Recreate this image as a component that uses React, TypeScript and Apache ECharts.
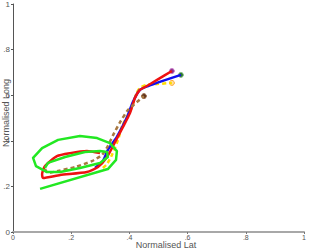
import React, { useEffect, useRef } from "react";
import * as echarts from "echarts";

const tickValues = [0, 0.2, 0.4, 0.6, 0.8, 1];
const tickLabels = ["0", ".2", ".4", ".6", ".8", "1"];

const greenLat = [0.093, 0.326, 0.354, 0.357, 0.333, 0.289, 0.23, 0.155, 0.1, 0.069, 0.079, 0.117, 0.162, 0.23, 0.299, 0.326, 0.323, 0.299, 0.247, 0.179, 0.12, 0.11];
const greenLong = [0.189, 0.276, 0.316, 0.355, 0.39, 0.412, 0.421, 0.404, 0.368, 0.325, 0.289, 0.263, 0.263, 0.281, 0.303, 0.329, 0.351, 0.355, 0.351, 0.329, 0.303, 0.281];

const redLat = [0.299, 0.254, 0.196, 0.151, 0.11, 0.1, 0.103, 0.162, 0.254, 0.292, 0.323, 0.351, 0.378, 0.402, 0.419, 0.436, 0.454, 0.495, 0.546];
const redLong = [0.346, 0.355, 0.346, 0.333, 0.289, 0.254, 0.237, 0.25, 0.263, 0.285, 0.329, 0.395, 0.461, 0.522, 0.588, 0.623, 0.636, 0.667, 0.706];

const blueLat = [0.282, 0.309, 0.326, 0.357, 0.392, 0.412, 0.436, 0.464, 0.512, 0.577];
const blueLong = [0.281, 0.311, 0.36, 0.417, 0.504, 0.57, 0.623, 0.64, 0.662, 0.689];

const yellowLat = [0.309, 0.323, 0.34, 0.361, 0.375, 0.409, 0.423, 0.436, 0.46, 0.495, 0.546];
const yellowLong = [0.281, 0.298, 0.338, 0.404, 0.465, 0.548, 0.605, 0.632, 0.645, 0.649, 0.654];

const brownLat = [0.11, 0.12, 0.155, 0.213, 0.271, 0.306, 0.326, 0.344, 0.368, 0.395, 0.426, 0.45];
const brownLong = [0.276, 0.259, 0.268, 0.285, 0.311, 0.338, 0.377, 0.425, 0.482, 0.535, 0.57, 0.596];

const pairs = (xs: number[], ys: number[]) => xs.map((x, i) => [x, ys[i]]);
const last = (xs: number[], ys: number[]) => [[xs[xs.length - 1], ys[ys.length - 1]]];

const FONT = "'Liberation Sans', Arial, sans-serif";

export default function App() {
  const ref = useRef<HTMLDivElement>(null);
  useEffect(() => {
    if (!ref.current) return;
    const chart = echarts.init(ref.current, undefined, { renderer: "svg" });
    const fmt = (v: number) => {
      const i = tickValues.findIndex((t) => Math.abs(t - v) < 1e-6);
      return i >= 0 ? tickLabels[i] : "";
    };
    const lineSeries = (data: number[][], color: string, width: number, dashed: boolean, smooth: number) => ({
      type: "line",
      data,
      showSymbol: false,
      symbol: "none",
      smooth,
      lineStyle: { color, width, type: dashed ? [4, 3] : "solid", cap: "butt", join: "round" },
      silent: true,
    });
    const dot = (data: number[][], fill: string, border: string) => ({
      type: "scatter",
      data,
      symbolSize: 5,
      itemStyle: { color: fill, borderColor: border, borderWidth: 1, opacity: 1 },
      silent: true,
    });
    chart.setOption({
      animation: false,
      backgroundColor: "#ffffff",
      grid: { left: 13, right: 11, top: 4, bottom: 18, containLabel: false, outerBoundsMode: "none" },
      xAxis: {
        type: "value",
        min: 0,
        max: 1,
        interval: 0.2,
        name: "Normalised Lat",
        nameLocation: "middle",
        nameGap: 8,
        nameMoveOverlap: false,
        nameTextStyle: { fontSize: 9, color: "#555", fontFamily: FONT, padding: [0, 0, 0, 15] },
        splitLine: { show: false },
        axisLine: { show: true, onZero: false, lineStyle: { color: "#a8a8a8", width: 2 } },
        axisTick: { show: true, length: 2, lineStyle: { color: "#777" } },
        axisLabel: { formatter: fmt, fontSize: 7, color: "#555", fontFamily: FONT, margin: 2 },
      },
      yAxis: {
        type: "value",
        min: 0,
        max: 1,
        interval: 0.2,
        name: "Normalised Long",
        nameLocation: "middle",
        nameGap: 3,
        nameMoveOverlap: false,
        nameTextStyle: { fontSize: 9, color: "#555", fontFamily: FONT, padding: [0, 0, 0, 10] },
        splitLine: { show: false },
        axisLine: { show: true, onZero: false, lineStyle: { color: "#555", width: 1 } },
        axisTick: { show: true, length: 2, lineStyle: { color: "#555" } },
        axisLabel: { formatter: fmt, fontSize: 8, color: "#555", fontFamily: FONT, margin: 3 },
      },
      series: [
        lineSeries(pairs(yellowLat, yellowLong), "#ffdd00", 2.5, true, 0.2),
        lineSeries(pairs(blueLat, blueLong), "#1010ee", 2.5, false, 0.2),
        lineSeries(pairs(redLat, redLong), "#ee1111", 2.5, false, 0.2),
        lineSeries(pairs(brownLat, brownLong), "#a87840", 2.5, true, 0.2),
        lineSeries(pairs(greenLat, greenLong), "#22e822", 2.5, false, 0),
        dot(last(yellowLat, yellowLong), "#ffe0a0", "#ffaa33"),
        dot(last(blueLat, blueLong), "#2a7a2a", "#88bb88"),
        dot(last(redLat, redLong), "#883388", "#cc77cc"),
        dot(last(brownLat, brownLong), "#5a3018", "#a07050"),
      ],
    });
    return () => chart.dispose();
  }, []);
  return <div ref={ref} style={{ width: 315, height: 250, position: "absolute", left: 0, top: 0 }} />;
}
